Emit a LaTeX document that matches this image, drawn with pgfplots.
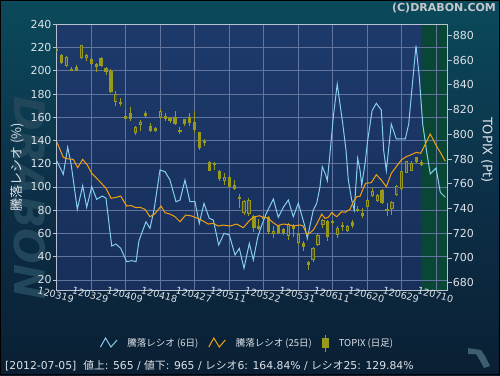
\documentclass[border=0pt]{standalone}
\usepackage{pgfplots}
\pgfplotsset{compat=1.18}
\usepackage{pgfplotstable}
\usepackage{fontspec}
\setmainfont{DejaVu Sans}
\newfontfamily\jp{Noto Sans CJK JP}

\definecolor{bgtop}{HTML}{0B4A5B}
\definecolor{bgmid}{HTML}{0C3048}
\definecolor{bgbot}{HTML}{0A1F33}
\definecolor{plottop}{HTML}{1D3A6B}
\definecolor{plotbot}{HTML}{172F5A}
\definecolor{greenc}{HTML}{094636}
\definecolor{gridc}{HTML}{62759E}
\definecolor{axisc}{HTML}{B8C2D0}
\definecolor{tickc}{HTML}{DDE2E8}
\definecolor{titlec}{HTML}{C4C8CC}
\definecolor{blueline}{HTML}{86CDEE}
\definecolor{orangeline}{HTML}{F5A10E}
\definecolor{candle}{HTML}{98981A}
\definecolor{candlein}{HTML}{46503A}
\definecolor{wm}{HTML}{22475A}
\definecolor{iconc}{HTML}{3D5E70}

\pgfplotsset{
  zigzag/.style={
    legend image code/.code={%
      \draw[##1] (0pt,-4pt) -- (5pt,5pt) -- (10.5pt,-4pt) -- (16.5pt,3pt);
    }},
  candleleg/.style={
    legend image code/.code={%
      \draw[candle, line width=1pt] (3.25pt,-8.5pt) -- (3.25pt,8.5pt);
      \fill[candle] (0pt,-4.5pt) rectangle (6.5pt,4.5pt);
    }},
  frame/.style={
    at={(56.7pt,85pt)}, anchor=south west,
    width=391pt, height=265.7pt, scale only axis,
    xmin=0, xmax=79.31},
}

% TOPIX daily candles: index, open, high, low, close
\pgfplotstableread{
x o h l c
0 869 870 866 867
1 864 865 857 858
2 855.4 863.5 854.5 862.2
3 853 854.5 851 851.5
4 854.6 856 851 851.4
5 861.9 872 861 871.9
6 862 865 859.5 864
7 861 862.5 855.5 857
8 857 857.5 850.5 854
9 861.6 862.5 854.5 855.2
10 853.6 854.5 848 850.6
11 851 852.5 833 834
12 826.3 834.8 822.8 832.3
13 826 829 823 824.5
14 814.8 819.6 812 812.6
15 817 822 811 812.3
16 801 807 799.6 806
17 807.3 811.5 803 810.2
18 817 819 813 815
19 806.7 809 802 803
20 805 805.5 802 802.4
21 812.9 820.8 812 818.6
22 814.8 817 811 812.6
23 813.5 814 809 810.7
24 813.7 818.6 807.8 808.3
25 803.4 806 800 801.8
26 812 812.5 807 808.3
27 814 817 806.5 809
28 810 818.6 801 803.4
29 801.8 802 787 788.9
30 794.8 796 790.8 792.7
31 777.8 778.5 770 770.5
32 777 777.5 771 775.4
33 770.5 771.5 762 764
34 762.5 769 758.8 765.2
35 765.2 766 757 757.6
36 759.2 763 755 756
37 749.5 752 740 747.4
38 736.6 747 735 745.8
39 735.6 748.5 734 746.9
40 733.9 735 721 724.2
41 725.8 731.5 723 723.7
42 733.3 734.5 729.5 731.7
43 732.8 734 719 720.7
44 719.4 726 716 722
45 726 726.3 719 720.4
46 723.7 724.3 718.6 720
47 717.7 728 714.5 727.2
48 726 727.4 716.6 723.2
49 711.8 720 710.7 719.4
50 712.3 714 706 708.6
51 696.5 697.3 689.9 694.5
52 698.3 709 697 708
53 710.7 720 710 718.8
54 726.4 731.5 724 730.7
55 729.6 730.7 714 717.2
56 730.1 731 727 728.5
57 718.8 725.5 716 724.2
58 726.9 729 722 724.8
59 722 727 721 726.1
60 729.1 730.7 724.2 725.8
61 739.3 742.3 736.9 737.7
62 736.6 740.4 732.3 733.9
63 741.4 748.5 740.9 746.9
64 750.3 756.5 749 753.9
65 745.8 751.7 745 750.6
66 754.9 755.7 743.6 744.2
67 739.8 744.1 733.6 738.2
68 739.3 745.8 735 745
69 751.1 759.2 750 758.4
70 755.5 770.5 754.4 770
71 768.9 778.6 768.4 778.1
72 770.5 778 770 776.5
73 781.4 782 777 777.8
74 777.3 779.3 774 775.5
}\topix

% 6-day advance/decline ratio
\pgfplotstableread{
x y
0.00 122.6
1.34 110.9
2.23 134.1
2.90 120.4
4.18 80.8
5.27 101.1
6.09 82.5
7.10 100.2
8.11 89.4
9.25 92.2
10.00 90.3
11.16 49.2
12.03 50.9
12.98 47.2
14.20 35.7
15.21 36.6
16.09 35.7
16.69 53.8
18.11 70.1
18.92 64.4
19.74 80.2
20.95 114.6
21.97 113.2
22.98 106.0
24.20 87.3
25.01 88.8
26.02 106.0
27.04 87.3
28.05 87.3
28.92 68.7
29.88 85.9
30.95 73.0
31.76 71.6
32.86 50.1
33.94 60.1
35.01 58.7
36.17 41.5
37.04 47.2
37.99 30.0
39.07 51.5
39.88 37.2
40.77 56.7
41.44 65.3
42.45 76.7
43.94 89.7
44.95 73.9
45.96 82.5
46.98 88.8
47.99 74.4
49.01 86.0
50.36 65.8
50.83 55.8
52.05 80.2
52.74 86.0
53.41 100.2
53.87 117.5
54.56 110.3
54.89 105.4
55.44 129.0
56.11 160.5
56.90 188.6
58.01 154.8
58.68 131.8
59.15 106.0
59.84 88.8
60.36 80.0
61.05 124.7
61.52 114.6
61.87 101.7
62.54 120.0
63.08 140.4
63.55 153.3
63.96 165.6
64.83 172.0
65.84 166.2
66.33 131.2
66.86 114.0
67.87 154.2
68.88 141.3
70.71 141.3
71.40 154.2
72.21 191.5
72.88 221.6
73.55 194.4
74.24 154.2
75.11 128.4
75.78 111.2
76.94 116.3
77.81 95.4
78.82 91.1
}\ratiosix

% 25-day advance/decline ratio
\pgfplotstableread{
x y
0.00 139.0
1.34 125.5
2.35 124.1
3.37 123.8
4.26 116.6
5.27 123.8
6.21 118.9
7.10 111.8
8.78 104.5
10.00 98.9
11.01 90.3
12.03 91.0
12.98 92.2
14.20 83.6
15.07 84.0
16.09 82.2
16.90 82.5
17.91 80.8
18.92 74.4
19.94 77.0
21.16 83.6
21.97 77.9
22.98 76.7
24.00 74.4
25.01 70.1
26.17 75.9
27.38 75.0
29.07 72.2
30.75 68.1
31.76 68.7
32.78 66.4
33.79 67.2
35.15 66.4
36.51 68.1
37.85 65.0
39.07 71.0
39.88 73.9
41.10 75.3
41.91 73.9
42.80 73.3
43.81 69.6
44.83 66.7
45.96 68.1
47.06 67.6
47.99 66.4
49.35 67.3
49.96 66.5
50.71 59.5
51.38 60.5
52.05 63.0
52.74 68.0
53.75 76.7
54.42 73.0
55.09 74.0
55.78 77.9
56.80 74.4
57.81 78.7
58.48 78.2
59.49 80.8
60.16 87.3
60.85 91.6
61.52 92.0
62.19 98.9
62.68 103.2
63.81 103.7
64.83 110.6
65.84 106.0
66.86 100.2
67.87 111.8
68.88 117.5
69.90 123.2
70.91 126.1
71.93 127.8
72.94 129.8
73.83 129.0
74.77 137.0
75.78 145.6
76.80 137.0
77.81 129.8
78.82 122.1
}\ratiotwentyfive

\begin{document}
\begin{tikzpicture}[x=1pt,y=1pt]
\shade[top color=bgtop, bottom color=bgbot, middle color=bgmid] (0,0) rectangle (500,375);
\node[rotate=-90, font=\bfseries\itshape\fontsize{42}{42}\selectfont, text=wm] at (30,177) {DRABON};
\node[font=\bfseries\fontsize{11}{11}\selectfont, text=titlec] at (444,366.5) {(C)DRABON.COM};

% axis A: plot background and the green (after last close) region
\begin{axis}[frame, ymin=11.35, ymax=240,
  axis background/.style={shade, top color=plottop, bottom color=plotbot},
  axis line style={draw=none}, xtick=\empty, ytick=\empty]
\addplot[draw=none, fill=greenc]
  coordinates {(73.95,11.35) (73.95,240) (79.31,240) (79.31,11.35)} -- cycle;
\end{axis}

% axis B: grid, left axis, dates
\begin{axis}[frame, ymin=11.35, ymax=240,
  axis line style={axisc, line width=0.9pt},
  grid=major, grid style={gridc, line width=0.7pt},
  tick pos=left, tick align=outside, major tick length=4pt,
  ytick={20,40,...,240},
  xtick={0,7,...,77},
  xticklabels={120319,120329,120409,120418,120427,120511,120522,120531,120611,120620,120629,120710},
  xtick style={draw=none},
  ytick style={axisc, line width=0.8pt},
  /pgf/number format/assume math mode=true,
  yticklabel style={font=\fontsize{11}{11}\selectfont, text=tickc, inner sep=1pt},
  xticklabel style={font=\fontsize{9.6}{9.6}\selectfont, text=tickc, rotate=-14, anchor=north, inner sep=0pt},
  xticklabel shift={-3pt},
]
\end{axis}

% axis C: TOPIX candles, right axis
\begin{axis}[frame, ymin=674.1, ymax=888.9,
  hide x axis, axis y line*=right,
  axis line style={axisc, line width=0.9pt},
  ytick={680,700,...,880}, tick align=outside, major tick length=4pt,
  ytick style={axisc, line width=0.8pt},
  /pgf/number format/assume math mode=true,
  yticklabel style={font=\fontsize{11}{11}\selectfont, text=tickc, inner sep=1pt},
]
\addplot[draw=none, mark=none, error bars/.cd, y dir=both, y explicit, error mark=none,
  error bar style={draw=candle, line width=1pt, solid}]
  table[x=x, y expr={(\thisrow{h}+\thisrow{l})/2}, y error expr={(\thisrow{h}-\thisrow{l})/2}] {\topix};
\addplot[draw=none, mark=none, error bars/.cd, y dir=both, y explicit, error mark=none,
  error bar style={draw=candle, line width=3.2pt, solid}]
  table[x=x, y expr={(\thisrow{o}+\thisrow{c})/2}, y error expr={max(abs(\thisrow{c}-\thisrow{o})/2,0.6)}] {\topix};
\addplot[draw=none, mark=none, error bars/.cd, y dir=both, y explicit, error mark=none,
  error bar style={draw=candlein, line width=1.3pt, solid}]
  table[x=x, y expr={(\thisrow{o}+\thisrow{c})/2}, y error expr={\thisrow{c}>\thisrow{o} ? max(abs(\thisrow{c}-\thisrow{o})/2-0.8,0) : 0}] {\topix};
\end{axis}

% axis D: ratio lines + legend
\begin{axis}[frame, ymin=11.35, ymax=240,
  hide axis,
  legend columns=3,
  legend style={at={(0.1107,-0.1995)}, anchor=west, draw=none, fill=none,
    inner sep=0pt, outer sep=0pt,
    font=\jp\fontsize{9.5}{10}\selectfont, text=tickc,
    nodes={inner sep=0pt},
    /tikz/every odd column/.style={column sep=10pt},
    /tikz/every even column/.style={column sep=10pt}},
]
\addplot[blueline, line width=1pt, zigzag] table[x=x, y=y] {\ratiosix};
\addlegendentry{騰落レシオ (6日)}
\addplot[orangeline, line width=1pt, zigzag] table[x=x, y=y] {\ratiotwentyfive};
\addlegendentry{騰落レシオ (25日)}
\addlegendimage{candleleg}
\addlegendentry{TOPIX (日足)}
\end{axis}

\node[rotate=90, font=\jp\fontsize{13}{13}\selectfont, text=tickc] at (17,208) {騰落レシオ (\%)};
\node[rotate=-90, font=\fontsize{13}{13}\selectfont, text=tickc] at (487,225) {TOPIX (Pt)};
\node[anchor=west, font=\fontsize{10.8}{12}\selectfont, text=tickc, inner sep=0pt] at (5,9)
  {[2012-07-05]\ \ {\jp 値上}: 565 / {\jp 値下}: 965 / {\jp レシオ}6: 164.84\% / {\jp レシオ}25: 129.84\%};
\fill[iconc] (468,27) -- (481,25) -- (485,19) -- (490,9) -- (484,7) -- (479,16) -- (476,21) -- (468,21) -- cycle;
\draw[black, line width=1pt] (0.5,0.5) rectangle (499.5,374.5);
\end{tikzpicture}
\end{document}
